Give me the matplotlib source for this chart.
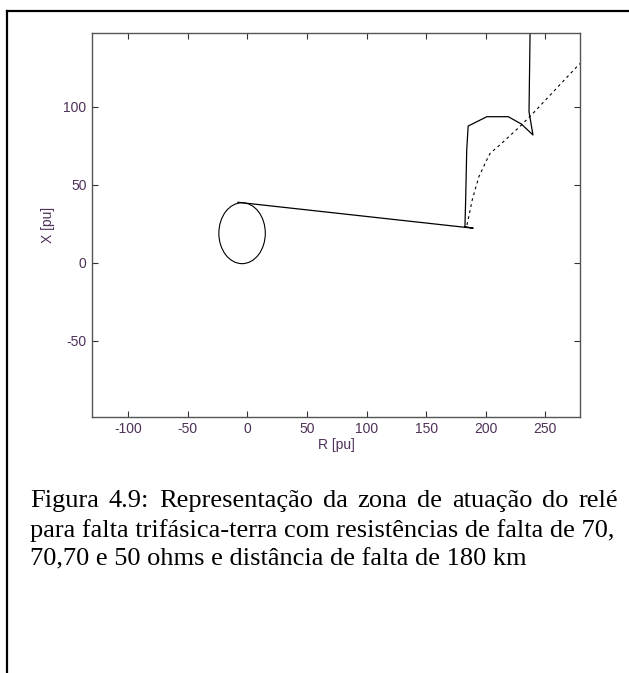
import numpy as np
import matplotlib.pyplot as plt
from matplotlib.lines import Line2D
from matplotlib.patches import Ellipse

plt.rcParams['axes.unicode_minus'] = False

# mho circle (R, X) and radius in pu
circ_c = (-4.5, 19.0)
circ_r = 19.5

# impedance trajectory seen by the relay (solid)
traj_R = [-8.0, 189.5, 182.6, 183.2, 184.1, 185.3, 201.0, 219.0, 230.0, 239.7, 236.4, 237.5]
traj_X = [38.8, 22.2, 23.2, 40.3, 72.3, 87.6, 93.6, 93.6, 88.9, 81.9, 96.8, 160.0]

# second trajectory (dashed)
dash_R = [184.3, 186.5, 188.7, 194.3, 200.9, 203.8, 211.9, 228.6, 239.8, 275.3, 285.0]
dash_X = [24.3, 32.0, 40.3, 55.2, 65.9, 70.2, 75.5, 87.2, 95.8, 124.6, 132.0]

xticks = [-100, -50, 0, 50, 100, 150, 200, 250]
yticks = [-50, 0, 50, 100]

caption = ["Figura 4.9: Representação da zona de atuação do relé",
           "para falta trifásica-terra com resistências de falta de 70,",
           "70,70 e 50 ohms e distância de falta de 180 km"]

W, H = 629, 673
fig = plt.figure(figsize=(W / 100, H / 100), dpi=100)
fig.patch.set_facecolor('white')

ax = fig.add_axes([92 / W, 1 - 416.7 / H, (580 - 92) / W, (416.7 - 33) / H])
ax.add_patch(Ellipse(circ_c, 2 * circ_r, 2 * circ_r, fill=False, color='black', lw=0.8))
ax.plot(traj_R, traj_X, color='black', lw=0.9)
ax.plot(dash_R, dash_X, color='black', lw=0.8, ls=(0, (2.5, 3)))

ax.set_xlim(-130.5, 279.2)
ax.set_ylim(-98.5, 147.2)
ax.set_xticks(xticks)
ax.set_yticks(yticks)

lab_col = '#4e3158'
font = ['Liberation Sans', 'DejaVu Sans']
ax.tick_params(direction='in', length=4, width=0.8, color='#333333',
               top=True, right=True, labelsize=10, labelcolor=lab_col, pad=4)
for lbl in ax.get_xticklabels() + ax.get_yticklabels():
    lbl.set_family(font)
for s in ax.spines.values():
    s.set_color('#555555')
    s.set_linewidth(1.0)
ax.set_xlabel('R [pu]', fontsize=10, color=lab_col, family=font, labelpad=1)
ax.set_ylabel('X [pu]', fontsize=10, color=lab_col, family=font, labelpad=6)

# page frame around the figure
fig.add_artist(Line2D([7 / W, 7 / W], [0, 1 - 11 / H], transform=fig.transFigure,
                      color='black', lw=1.6))
fig.add_artist(Line2D([7 / W, 1], [1 - 11 / H, 1 - 11 / H], transform=fig.transFigure,
                      color='black', lw=1.6))

# caption, first line justified between the margins
serif = ['Liberation Serif', 'DejaVu Serif']
fs = 19
x0, x1 = 30, 618
baselines = [507, 537, 565]
renderer = fig.canvas.get_renderer()
words = caption[0].split(' ')
arts = [fig.text(0, 1 - baselines[0] / H, w, fontsize=fs, family=serif, va='baseline')
        for w in words]
widths = [a.get_window_extent(renderer).width for a in arts]
gap = (x1 - x0 - sum(widths)) / (len(words) - 1)
xpos = x0
for a, w in zip(arts, widths):
    a.set_x(xpos / W)
    xpos += w + gap
for line, yb in zip(caption[1:], baselines[1:]):
    fig.text(x0 / W, 1 - yb / H, line, fontsize=fs, family=serif, va='baseline')

fig.savefig('out.png', dpi=100)
